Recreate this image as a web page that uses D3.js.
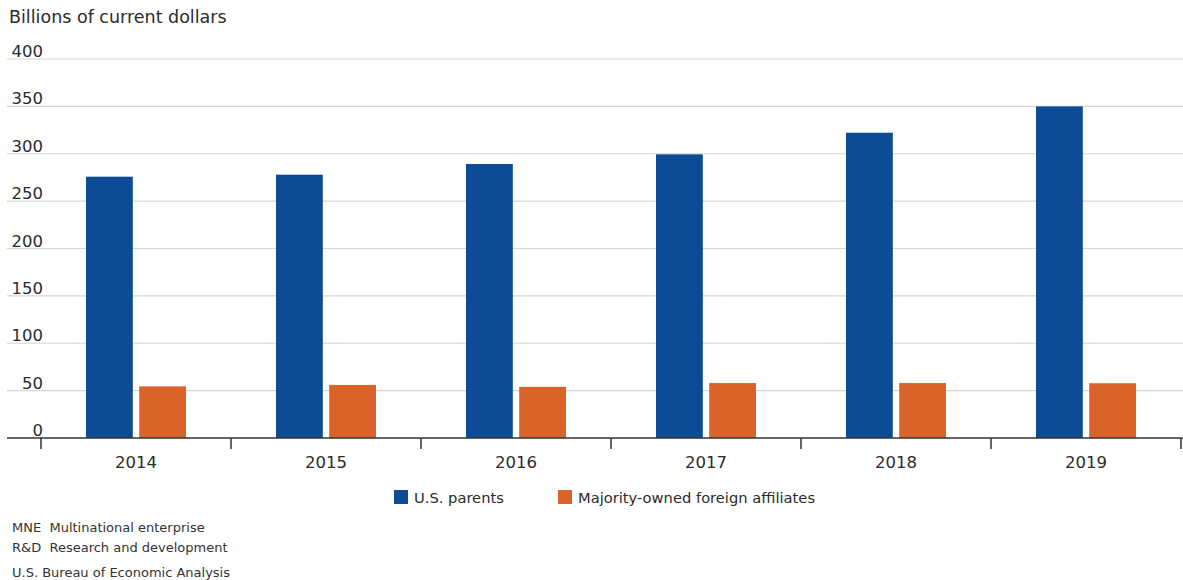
<!DOCTYPE html>
<html>
<head>
<meta charset="utf-8">
<script src="https://cdn.jsdelivr.net/npm/d3@7.9.0/dist/d3.min.js"></script>
<style>
  body { margin: 0; background: #fff; }
  svg { display: block; font-family: "DejaVu Sans", sans-serif; }
</style>
</head>
<body>
<svg id="chart" width="1183" height="580"></svg>
<script>
const years = ['2014', '2015', '2016', '2017', '2018', '2019'];
const usParents = [275.8, 277.9, 289.2, 299.4, 322.2, 350];
const foreignAffiliates = [54.5, 56, 54, 58, 58, 57.8];
const yTicks = [0, 50, 100, 150, 200, 250, 300, 350, 400];
const seriesNames = ['U.S. parents', 'Majority-owned foreign affiliates'];
const seriesColors = ['#0d4c94', '#da6329'];
const notes = ['MNE  Multinational enterprise', 'R&D  Research and development'];
const source = 'U.S. Bureau of Economic Analysis';

const svg = d3.select('#chart');
const textColor = '#2b2b2b';

const x = d3.scaleBand().domain(years).range([41, 1181]);
const y = d3.scaleLinear().domain([0, 400]).range([438, 59]);
const inner = d3.scaleBand().domain([0, 1]).range([x.bandwidth() / 2 - 50, x.bandwidth() / 2 + 50]).paddingInner(0.12);

// title
svg.append('text')
  .attr('x', 9).attr('y', 23)
  .attr('font-size', 17.5).attr('fill', textColor)
  .text('Billions of current dollars');

// gridlines + y labels
const grid = svg.append('g');
grid.selectAll('line')
  .data(yTicks.filter(d => d > 0))
  .join('line')
  .attr('x1', 7).attr('x2', 1183)
  .attr('y1', d => y(d)).attr('y2', d => y(d))
  .attr('stroke', '#d6d6d6').attr('stroke-width', 1.2);

grid.selectAll('text')
  .data(yTicks)
  .join('text')
  .attr('x', 43).attr('y', d => y(d) - 2)
  .attr('text-anchor', 'end')
  .attr('font-size', 16.5).attr('fill', textColor)
  .text(d => d);

// bars
const groups = svg.append('g').selectAll('g')
  .data(years.map((yr, i) => ({ yr, vals: [usParents[i], foreignAffiliates[i]] })))
  .join('g')
  .attr('transform', d => `translate(${x(d.yr)},0)`);

groups.selectAll('rect')
  .data(d => d.vals)
  .join('rect')
  .attr('x', (d, i) => inner(i))
  .attr('width', inner.bandwidth())
  .attr('y', d => y(d))
  .attr('height', d => y(0) - y(d))
  .attr('fill', (d, i) => seriesColors[i]);

// x axis
const xAxis = svg.append('g');
xAxis.append('line')
  .attr('x1', 7).attr('x2', 1183)
  .attr('y1', y(0)).attr('y2', y(0))
  .attr('stroke', '#333').attr('stroke-width', 1.5);

const tickXs = years.map(d => x(d)).concat([x.range()[1]]);
xAxis.selectAll('line.tick')
  .data(tickXs)
  .join('line')
  .attr('class', 'tick')
  .attr('x1', d => d).attr('x2', d => d)
  .attr('y1', y(0)).attr('y2', y(0) + 11)
  .attr('stroke', '#333').attr('stroke-width', 1.5);

xAxis.selectAll('text')
  .data(years)
  .join('text')
  .attr('x', d => x(d) + x.bandwidth() / 2)
  .attr('y', 468)
  .attr('text-anchor', 'middle')
  .attr('font-size', 16.5).attr('fill', textColor)
  .text(d => d);

// legend
const legendX = [394, 558];
const legend = svg.append('g').selectAll('g')
  .data(seriesNames)
  .join('g')
  .attr('transform', (d, i) => `translate(${legendX[i]},490)`);
legend.append('rect')
  .attr('width', 14).attr('height', 14)
  .attr('fill', (d, i) => seriesColors[i]);
legend.append('text')
  .attr('x', 20).attr('y', 12.5)
  .attr('font-size', 14.7).attr('fill', textColor)
  .text(d => d);

// footnotes
svg.append('g').selectAll('text')
  .data(notes)
  .join('text')
  .attr('x', 12).attr('y', (d, i) => 532 + i * 20)
  .attr('font-size', 13).attr('fill', '#333')
  .attr('xml:space', 'preserve')
  .style('white-space', 'pre')
  .text(d => d);

svg.append('text')
  .attr('x', 12).attr('y', 577)
  .attr('font-size', 13).attr('fill', '#333')
  .text(source);
</script>
</body>
</html>
